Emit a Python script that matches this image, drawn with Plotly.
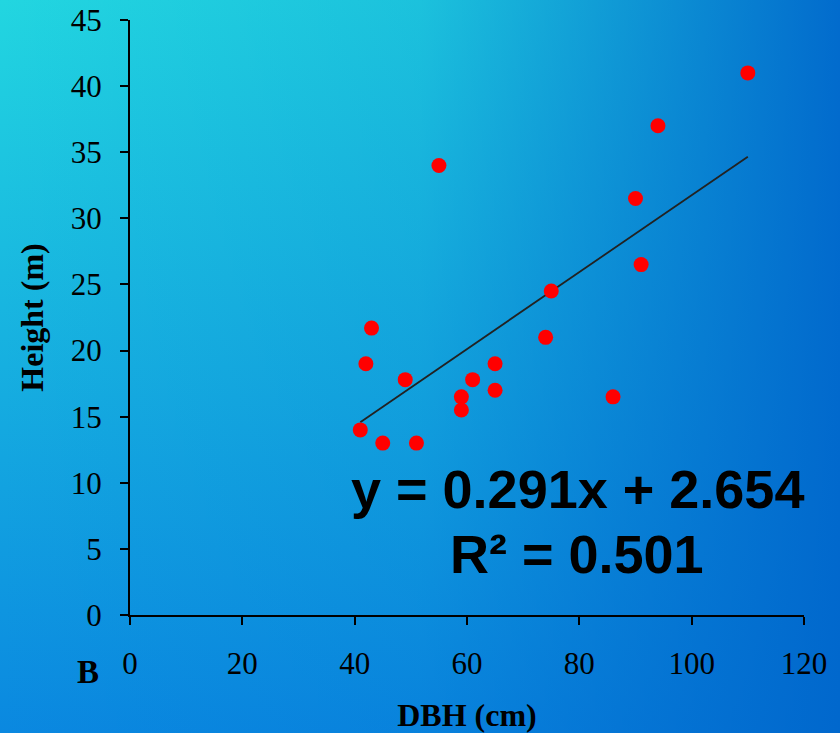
import base64
import plotly.graph_objects as go

# Data
dbh_cm = [41, 45, 51, 42, 43, 49, 59, 59, 61, 65, 65, 74, 86, 55, 75, 91, 90, 94, 110]
height_m = [14.0, 13.0, 13.0, 19.0, 21.7, 17.8, 16.5, 15.5, 17.8, 19.0, 17.0, 21.0, 16.5, 34.0, 24.5, 26.5, 31.5, 37.0, 41.0]
slope = 0.291
intercept = 2.654
r_squared = 0.501
x_ticks = [0, 20, 40, 60, 80, 100, 120]
y_ticks = [0, 5, 10, 15, 20, 25, 30, 35, 40, 45]

W, H = 840, 733
ml, mr, mt, mb = 130, 36, 20, 118
pw, ph = W - ml - mr, H - mt - mb

svg = f'''<svg xmlns="http://www.w3.org/2000/svg" width="{W}" height="{H}" viewBox="0 0 {W} {H}" preserveAspectRatio="none">
<defs>
<linearGradient id="v" x1="0" y1="0" x2="0" y2="1"><stop offset="0" stop-color="#22D6E0"/><stop offset="1" stop-color="#0A88E0"/></linearGradient>
<linearGradient id="h" x1="0" y1="0" x2="1" y2="0"><stop offset="0" stop-color="#0066CC" stop-opacity="0"/><stop offset="0.5" stop-color="#0066CC" stop-opacity="0.18"/><stop offset="1" stop-color="#0066CC" stop-opacity="0.95"/></linearGradient>
</defs>
<rect width="{W}" height="{H}" fill="url(#v)"/><rect width="{W}" height="{H}" fill="url(#h)"/></svg>'''
src = "data:image/svg+xml;base64," + base64.b64encode(svg.encode()).decode()

xmin, xmax = min(dbh_cm), max(dbh_cm)
fig = go.Figure()
fig.add_trace(go.Scatter(
    x=[xmin, xmax], y=[slope * xmin + intercept, slope * xmax + intercept],
    mode="lines", line=dict(color="#222222", width=1.8), hoverinfo="skip", showlegend=False))
fig.add_trace(go.Scatter(
    x=dbh_cm, y=height_m, mode="markers",
    marker=dict(color="#FF0000", size=15, line=dict(width=0)), showlegend=False))

serif = "Liberation Serif, Times New Roman, serif"
axis_common = dict(showgrid=False, zeroline=False, showline=True, linecolor="black", linewidth=2,
                   ticks="outside", ticklen=8, tickwidth=2, tickcolor="black", automargin=False,
                   tickfont=dict(family=serif, size=31, color="black"))
fig.update_xaxes(range=[0, 120], tickvals=x_ticks, ticklabelstandoff=12,
                 title=dict(text="<b>DBH (cm)</b>", font=dict(family=serif, size=32, color="black"), standoff=25),
                 **axis_common)
fig.update_yaxes(range=[0, 45], tickvals=y_ticks, ticklabelstandoff=12,
                 title=dict(text="<b>Height (m)</b>", font=dict(family=serif, size=32, color="black"), standoff=18),
                 **axis_common)

sans = "Liberation Sans, Arial, sans-serif"
fig.add_annotation(x=79.6, y=9.55, text=f"<b>y = {slope}x + {intercept}</b>", showarrow=False,
                   font=dict(family=sans, size=54, color="black"), xanchor="center", yanchor="middle")
fig.add_annotation(x=79.6, y=4.65, text=f"<b>R² = {r_squared}</b>", showarrow=False,
                   font=dict(family=sans, size=54, color="black"), xanchor="center", yanchor="middle")
fig.add_annotation(xref="paper", yref="paper", x=(88 - ml) / pw, y=(H - mb - 672) / ph,
                   text="<b>B</b>", showarrow=False, font=dict(family=serif, size=33, color="black"),
                   xanchor="center", yanchor="middle")

fig.update_layout(
    width=W, height=H, margin=dict(l=ml, r=mr, t=mt, b=mb, autoexpand=False),
    paper_bgcolor="#14A8E0", plot_bgcolor="rgba(0,0,0,0)",
    images=[dict(source=src, xref="paper", yref="paper", x=-ml / pw, y=1 + mt / ph,
                 sizex=W / pw, sizey=H / ph, sizing="stretch", xanchor="left", yanchor="top",
                 layer="below")],
)
fig.write_html("out.html")
